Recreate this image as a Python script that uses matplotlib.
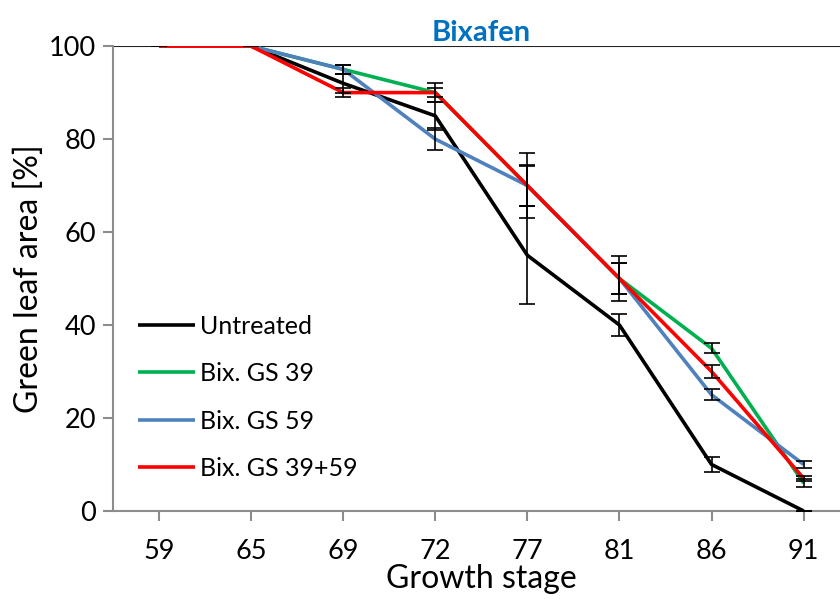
"""
Green leaf area over growth stages, Bixafen treatments
"""

import matplotlib
matplotlib.use('Agg')
import numpy as np
import matplotlib.pyplot as plt

stages = ['59', '65', '69', '72', '77', '81', '86', '91']

untreated = [100, 100, 92, 85, 55, 40, 10, 0]
untreated_err = [0, 0, 2, 3, 10.5, 2.4, 1.6, 0]

gs39 = [100, 100, 95, 90, 70, 50, 35, 6]
gs39_err = [0, 0, 1, 1, 4.5, 3.4, 1.1, 0.8]

gs59 = [100, 100, 95, 80, 70, 50, 25, 10]
gs59_err = [0, 0, 1, 2.3, 7, 4.8, 1.2, 0.8]

gs3959 = [100, 100, 90, 90, 70, 50, 30, 7]
gs3959_err = [0, 0, 1, 2, 4.3, 3.4, 1.4, 0.6]

series = [
    ('Untreated', untreated, untreated_err, '#000000'),
    ('Bix. GS 39', gs39, gs39_err, '#00B050'),
    ('Bix. GS 59', gs59, gs59_err, '#4F81BD'),
    ('Bix. GS 39+59', gs3959, gs3959_err, '#FF0000'),
]


def main():
    plt.rcParams['font.family'] = ['Lato', 'DejaVu Sans']

    fig = plt.figure(figsize=(8.4, 5.99), dpi=100)
    ax = fig.add_axes([0.1345, 0.147, 0.877, 0.776])

    x = np.arange(len(stages))

    # lines first, error bars on top
    for name, vals, err, col in series:
        ax.plot(x, vals, color=col, lw=2.6, label=name, zorder=3,
                solid_capstyle='butt')
    for name, vals, err, col in series:
        ax.errorbar(x, vals, yerr=err, fmt='none', ecolor='black',
                    elinewidth=1.2, capsize=6, capthick=1.2, zorder=4)

    # dark line along the 100 % level
    ax.axhline(100, color='#222222', lw=1.5, zorder=2)

    ax.set_xlim(-0.5, 7.5)
    ax.set_ylim(0, 100)
    ax.set_xticks(x)
    ax.set_xticklabels(stages)
    ax.set_yticks(range(0, 101, 20))

    for s in ['top', 'right']:
        ax.spines[s].set_visible(False)
    for s in ['left', 'bottom']:
        ax.spines[s].set_color('#8c8c8c')
        ax.spines[s].set_linewidth(1.5)

    ax.tick_params(axis='x', direction='out', length=7, width=1.5,
                   color='#8c8c8c', labelsize=19.5, pad=13)
    ax.tick_params(axis='y', direction='out', length=7, width=1.5,
                   color='#8c8c8c', labelsize=19.5, pad=5)

    ax.set_xlabel('Growth stage', fontsize=23, labelpad=0)
    ax.set_ylabel('Green leaf area [%]', fontsize=23, labelpad=4)
    ax.set_title('Bixafen', fontsize=21, fontweight='bold',
                 color='#0070C0', pad=3)

    ax.legend(loc='lower left', bbox_to_anchor=(0.02, 0.045), frameon=False,
              fontsize=18, handlelength=2.3, handletextpad=0.2,
              labelspacing=0.98, borderaxespad=0)

    fig.savefig('out.png', dpi=100)


if __name__ == '__main__':
    main()
